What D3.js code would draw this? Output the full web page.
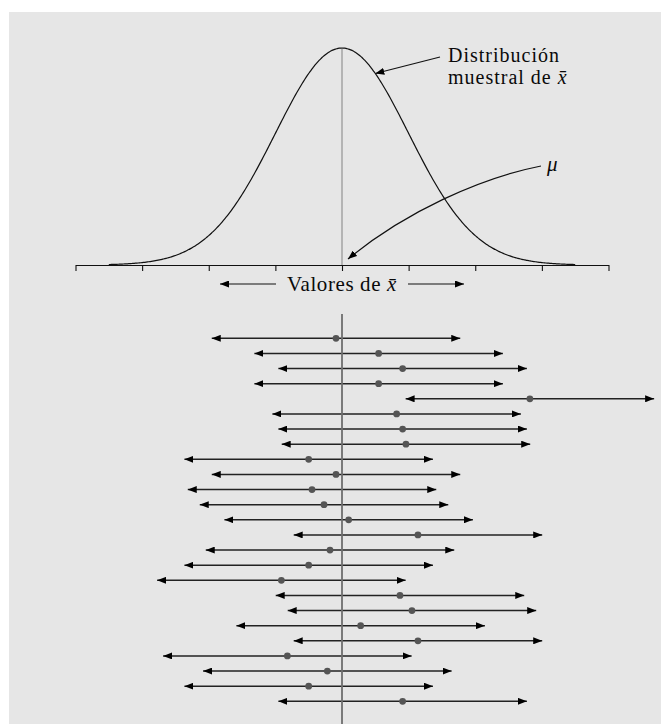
<!DOCTYPE html>
<html>

<head>
	<meta charset="UTF-8" />
	<title>Intervalos de confianza</title>
	<script src="https://d3js.org/d3.v7.min.js"></script>
	<style>
		body { margin: 0; background: #fff; }
		text { font-family: "Liberation Serif", "Times New Roman", serif; fill: #0a0a0a; }
	</style>
</head>

<body>
	<svg id="chart"></svg>

	<script type="text/javascript">
	// curve parameters (in units of sigma)
	var mu = 0
	var sigma = 1
	var curveRange = [-3.5, 3.5]
	var axisTicks = [-4, -3, -2, -1, 0, 1, 2, 3, 4]

	// sample means for each of the 25 intervals, same units
	var sampleMeans = [-0.09, 0.55, 0.91, 0.55, 2.82, 0.82, 0.91, 0.96,
		-0.50, -0.09, -0.45, -0.27, 0.10, 1.14, -0.18, -0.50, -0.91,
		0.87, 1.05, 0.28, 1.14, -0.82, -0.22, -0.50, 0.91]
	var halfWidth = 1.865

	// labels
	var curveLabel = ["Distribución", "muestral de "]
	var axisLabel = "Valores de "
	var xbar = "x\u0304"
	var muLabel = "μ"

	var gray0 = "#e6e6e6"
	var dotGray = "#555555"

	var svg = d3.select("#chart")
		.attr("width", 661)
		.attr("height", 724)

	svg.append("rect")
		.attr("x", 9).attr("y", 12)
		.attr("width", 652).attr("height", 712)
		.attr("fill", gray0)

	// arrow heads
	var defs = svg.append("defs")
	defs.append("marker")
		.attr("id", "tri")
		.attr("markerUnits", "userSpaceOnUse")
		.attr("viewBox", "0 0 9 7")
		.attr("refX", 9).attr("refY", 3.5)
		.attr("markerWidth", 9).attr("markerHeight", 7)
		.attr("orient", "auto-start-reverse")
		.append("path")
		.attr("d", "M0,0 L9,3.5 L0,7 Z")
		.attr("fill", "#000")

	var xScale = d3.scaleLinear().domain([-4, 4]).range([75.5, 608.5])

	function pdf(x) {
		return Math.exp(-0.5 * Math.pow((x - mu) / sigma, 2)) / (sigma * Math.sqrt(2 * Math.PI))
	}
	var yScale = d3.scaleLinear().domain([0, pdf(mu)]).range([265, 48])

	// ---- top: sampling distribution
	var xAxis = d3.axisBottom(xScale)
		.tickValues(axisTicks)
		.tickSize(6)
		.tickSizeOuter(0)
		.tickFormat("")
	var axisG = svg.append("g")
		.attr("transform", "translate(0,265)")
		.call(xAxis)
	axisG.selectAll("path, line").attr("stroke", "#111").attr("stroke-width", 1.1)

	svg.append("line")
		.attr("x1", xScale(mu)).attr("x2", xScale(mu))
		.attr("y1", yScale(pdf(mu))).attr("y2", yScale(0))
		.attr("stroke", "#9a9a9a")
		.attr("stroke-width", 1.3)

	var curvePts = d3.range(curveRange[0], curveRange[1] + 0.001, 0.02)
	var line = d3.line()
		.x(d => xScale(d))
		.y(d => yScale(pdf(d)))
		.curve(d3.curveBasis)
	svg.append("path")
		.attr("d", line(curvePts))
		.attr("fill", "none")
		.attr("stroke", "#111")
		.attr("stroke-width", 1.2)

	// label + arrow to the curve
	var lbl = svg.append("text")
		.attr("x", 448).attr("y", 61.5)
		.style("font-size", "20px")
		.style("letter-spacing", "1px")
	lbl.append("tspan").text(curveLabel[0])
	var lbl2 = svg.append("text")
		.attr("x", 448).attr("y", 83.5)
		.style("font-size", "20px")
		.style("letter-spacing", "1px")
	lbl2.append("tspan").text(curveLabel[1])
	lbl2.append("tspan").style("font-style", "italic").text(xbar)

	svg.append("line")
		.attr("x1", 440).attr("y1", 57)
		.attr("x2", xScale(0.5)).attr("y2", yScale(pdf(0.5)))
		.attr("stroke", "#111").attr("stroke-width", 1.2)
		.attr("marker-end", "url(#tri)")

	// mu label + curved arrow
	svg.append("text")
		.attr("x", 547).attr("y", 171)
		.style("font-size", "21px")
		.style("font-style", "italic")
		.text(muLabel)

	var muPath = d3.path()
	muPath.moveTo(541, 166)
	muPath.bezierCurveTo(480, 178, 405, 212, xScale(mu) + 6, 259)
	svg.append("path")
		.attr("d", muPath.toString())
		.attr("fill", "none")
		.attr("stroke", "#111").attr("stroke-width", 1.2)
		.attr("marker-end", "url(#tri)")

	// axis title with arrows
	svg.append("text")
		.attr("x", xScale(mu)).attr("y", 290.7)
		.attr("text-anchor", "middle")
		.style("font-size", "21px")
		.style("letter-spacing", "0.6px")
		.call(t => {
			t.append("tspan").text(axisLabel)
			t.append("tspan").style("font-style", "italic").text(xbar)
		})
	svg.append("line")
		.attr("x1", 276).attr("x2", 220).attr("y1", 284).attr("y2", 284)
		.attr("stroke", "#111").attr("stroke-width", 1.2)
		.attr("marker-end", "url(#tri)")
	svg.append("line")
		.attr("x1", 408).attr("x2", 464).attr("y1", 284).attr("y2", 284)
		.attr("stroke", "#111").attr("stroke-width", 1.2)
		.attr("marker-end", "url(#tri)")

	// ---- bottom: confidence intervals
	var rowScale = d3.scaleLinear().domain([0, sampleMeans.length - 1]).range([338.3, 701.3])

	svg.selectAll(".ci")
		.data(sampleMeans)
		.enter()
		.append("line")
		.attr("class", "ci")
		.attr("x1", d => xScale(d - halfWidth))
		.attr("x2", d => xScale(d + halfWidth))
		.attr("y1", (d, i) => rowScale(i))
		.attr("y2", (d, i) => rowScale(i))
		.attr("stroke", "#222")
		.attr("stroke-width", 1.4)
		.attr("marker-start", "url(#tri)")
		.attr("marker-end", "url(#tri)")

	svg.append("line")
		.attr("x1", xScale(mu)).attr("x2", xScale(mu))
		.attr("y1", 314).attr("y2", 724)
		.attr("stroke", "#6e6e6e")
		.attr("stroke-width", 1.8)

	svg.selectAll(".mean")
		.data(sampleMeans)
		.enter()
		.append("circle")
		.attr("class", "mean")
		.attr("cx", d => xScale(d))
		.attr("cy", (d, i) => rowScale(i))
		.attr("r", 3.4)
		.attr("fill", dotGray)
	</script>
</body>
</html>
